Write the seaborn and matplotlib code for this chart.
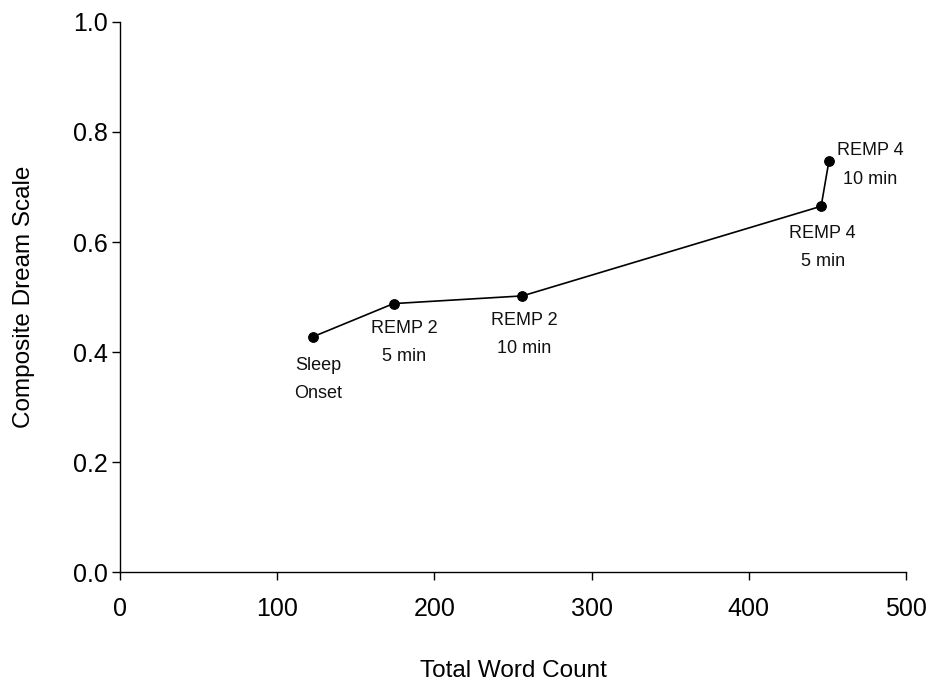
import matplotlib
matplotlib.use("Agg")
import pandas as pd
import seaborn as sns
import matplotlib.pyplot as plt

# data
word_count = [123, 174, 256, 446, 451]
dream_scale = [0.428, 0.488, 0.502, 0.665, 0.748]
stage_labels = ["Sleep\nOnset", "REMP 2\n5 min", "REMP 2\n10 min", "REMP 4\n5 min", "REMP 4\n10 min"]
label_x = [126, 181, 257, 447, 477]
label_y = [0.350, 0.417, 0.431, 0.590, 0.740]

df = pd.DataFrame({"Total Word Count": word_count, "Composite Dream Scale": dream_scale})

sns.set_style("ticks")
plt.rcParams["font.family"] = ["Liberation Sans", "DejaVu Sans"]
plt.rcParams["text.color"] = "black"
plt.rcParams["axes.labelcolor"] = "black"
plt.rcParams["xtick.color"] = "black"
plt.rcParams["ytick.color"] = "black"

fig = plt.figure(figsize=(9.33, 6.83), dpi=100)
ax = fig.add_axes([0.1286, 0.1625, 0.8425, 0.8053])

sns.lineplot(data=df, x="Total Word Count", y="Composite Dream Scale", sort=False,
             color="black", linewidth=1.2, marker="o", markersize=7,
             markeredgecolor="black", ax=ax)

for lx, ly, txt in zip(label_x, label_y, stage_labels):
    ax.text(lx, ly, txt, ha="center", va="center", fontsize=13,
            linespacing=1.85, color="#111111")

ax.set_xlim(0, 500)
ax.set_ylim(0, 1.0)
ax.set_xticks([0, 100, 200, 300, 400, 500])
ax.set_yticks([0.0, 0.2, 0.4, 0.6, 0.8, 1.0])
ax.set_yticklabels(["0.0", "0.2", "0.4", "0.6", "0.8", "1.0"])
ax.tick_params(axis="x", length=6, width=1, labelsize=18, pad=12)
ax.tick_params(axis="y", length=6, width=1, labelsize=18, pad=3)
ax.set_xlabel("Total Word Count", fontsize=17.5, labelpad=28)
ax.set_ylabel("Composite Dream Scale", fontsize=17.5, labelpad=27)
sns.despine(ax=ax)
for s in ["left", "bottom"]:
    ax.spines[s].set_color("black")
    ax.spines[s].set_linewidth(1)

plt.savefig("out.png", dpi=100)
